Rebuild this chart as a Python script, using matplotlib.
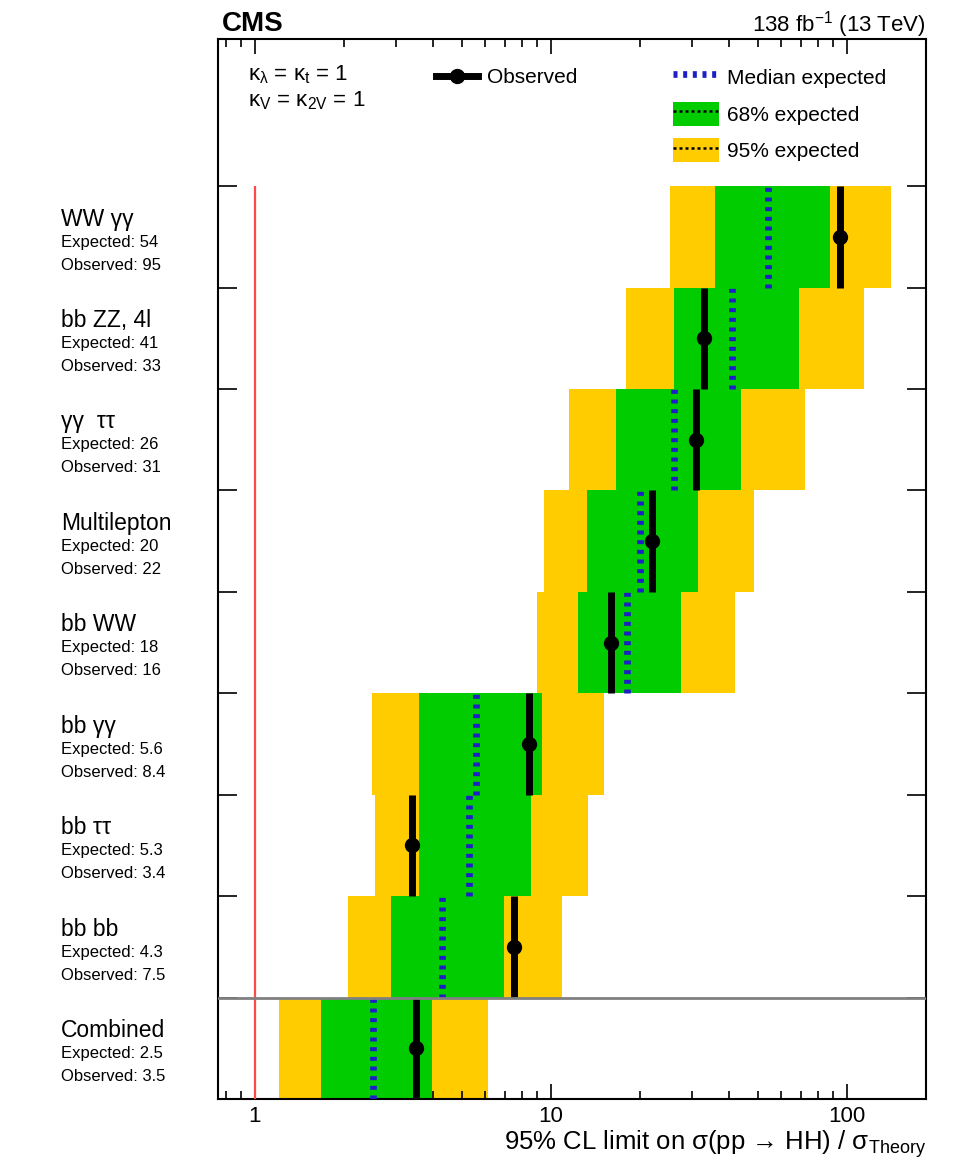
import matplotlib
matplotlib.use("Agg")
import matplotlib.pyplot as plt
from matplotlib.lines import Line2D
from matplotlib.patches import Patch
from matplotlib.legend_handler import HandlerTuple
from matplotlib.ticker import FixedLocator, LogLocator, NullFormatter

plt.rcParams['font.family'] = ['Liberation Sans', 'DejaVu Sans']
plt.rcParams['mathtext.fontset'] = 'custom'
plt.rcParams['mathtext.rm'] = 'Liberation Sans'
plt.rcParams['mathtext.it'] = 'Liberation Sans:italic'
plt.rcParams['mathtext.bf'] = 'Liberation Sans:bold'

# channels listed top to bottom
channels = ["WW γγ", "bb ZZ, 4l", "γγ  ττ", "Multilepton", "bb WW",
            "bb γγ", "bb ττ", "bb bb", "Combined"]
expected = [54, 41, 26, 20, 18, 5.6, 5.3, 4.3, 2.5]
observed = [95, 33, 31, 22, 16, 8.4, 3.4, 7.5, 3.5]
band68_lo = [35.7, 26.0, 16.6, 13.2, 12.3, 3.59, 3.59, 2.88, 1.67]
band68_hi = [87.9, 68.9, 43.9, 31.4, 27.6, 9.36, 8.59, 6.95, 3.97]
band95_lo = [25.3, 17.9, 11.46, 9.5, 8.96, 2.49, 2.55, 2.06, 1.21]
band95_hi = [141, 114.5, 71.9, 48.4, 41.7, 15.1, 13.3, 10.9, 6.11]

yellow = '#FFCC00'
green = '#00CC00'
blue = '#1e1ec8'

fig = plt.figure(figsize=(9.75, 11.72), dpi=100)
ax = fig.add_axes([0.2236, 0.0623, 0.7262, 0.9044])
ax.set_xscale('log')

n = len(channels)
for i, name in enumerate(channels):
    y0 = n - 1 - i
    ax.barh(y0, band95_hi[i] - band95_lo[i], left=band95_lo[i], height=1,
            align='edge', color=yellow, lw=0, zorder=1)
    ax.barh(y0, band68_hi[i] - band68_lo[i], left=band68_lo[i], height=1,
            align='edge', color=green, lw=0, zorder=2)
    ax.vlines(expected[i], y0, y0 + 1, colors=blue, lw=4.8,
              linestyles=[(0, (0.6, 0.85))], zorder=3)
    ax.vlines(observed[i], y0, y0 + 1, colors='k', lw=5, zorder=4)
    ax.plot(observed[i], y0 + 0.5, 'o', color='k', ms=10, zorder=5)

    # channel name and numbers on the left
    tr = ax.get_yaxis_transform()
    ax.text(-0.222, y0 + 1 - 0.325, name, transform=tr, fontsize=16.5,
            ha='left', va='center')
    ax.text(-0.222, y0 + 1 - 0.552, f"Expected: {expected[i]:g}", transform=tr,
            fontsize=12, ha='left', va='center')
    ax.text(-0.222, y0 + 1 - 0.779, f"Observed: {observed[i]:g}", transform=tr,
            fontsize=12, ha='left', va='center')

ax.vlines(1, 0, n, colors='#ff4848', lw=1.6, zorder=6)
ax.axhline(1, color='#808080', lw=2, zorder=6)

ax.set_xlim(0.75, 185)
ax.set_ylim(0, 10.45)

ax.xaxis.set_major_locator(FixedLocator([1, 10, 100]))
ax.set_xticklabels(['1', '10', '100'])
ax.xaxis.set_minor_locator(LogLocator(subs=[2, 3, 4, 5, 6, 7, 8, 9]))
ax.xaxis.set_minor_formatter(NullFormatter())
ax.set_yticks(range(1, n + 1))
ax.set_yticklabels([])
ax.tick_params(axis='x', which='major', direction='in', top=True, length=11,
               width=1.2, labelsize=16, pad=5)
ax.tick_params(axis='x', which='minor', direction='in', top=True, length=6,
               width=1.2)
ax.tick_params(axis='y', which='major', direction='in', left=True, right=True,
               length=14, width=1.2)
for sp in ax.spines.values():
    sp.set_linewidth(1.5)

ax.set_xlabel(r'95% CL limit on σ(pp → HH) / σ$_{\mathregular{Theory}}$',
              fontsize=18.5, loc='right', labelpad=1)

ax.text(0.005, 1.0075, 'CMS', transform=ax.transAxes, fontsize=20,
        fontweight='bold', ha='left', va='baseline')
ax.text(1, 1.0075, r'138 fb$^{\mathregular{-1}}$ (13 TeV)', transform=ax.transAxes,
        fontsize=16, ha='right', va='baseline')

ax.text(0.042, 0.966, r'κ$_{\mathregular{λ}}$ = κ$_{\mathregular{t}}$ = 1',
        transform=ax.transAxes, fontsize=16, ha='left', va='center')
ax.text(0.042, 0.942, r'κ$_{\mathregular{V}}$ = κ$_{\mathregular{2V}}$ = 1',
        transform=ax.transAxes, fontsize=16, ha='left', va='center')

obs_handle = Line2D([], [], color='k', lw=5, marker='o', ms=10)
leg1 = ax.legend([obs_handle], ['Observed'], loc='upper left',
                 bbox_to_anchor=(0.308, 0.9725), frameon=False, fontsize=15,
                 borderpad=0, borderaxespad=0, handlelength=2.0,
                 handletextpad=0.45)
ax.add_artist(leg1)

med_handle = Line2D([], [], color=blue, lw=4.8, dashes=(0.6, 0.85))
dot68 = Line2D([], [], color='k', lw=1.8, dashes=(1.2, 1.2))
dot95 = Line2D([], [], color='k', lw=1.8, dashes=(1.2, 1.2))
ax.legend([med_handle, (Patch(facecolor=green, lw=0), dot68),
           (Patch(facecolor=yellow, lw=0), dot95)],
          ['Median expected', '68% expected', '95% expected'],
          handler_map={tuple: HandlerTuple(ndivide=1, pad=0)},
          loc='upper left', bbox_to_anchor=(0.6427, 0.9755), frameon=False,
          fontsize=15, borderpad=0, borderaxespad=0, handlelength=2.2,
          handleheight=1.4, labelspacing=0.6, handletextpad=0.4)

fig.savefig('out.png', dpi=100)
